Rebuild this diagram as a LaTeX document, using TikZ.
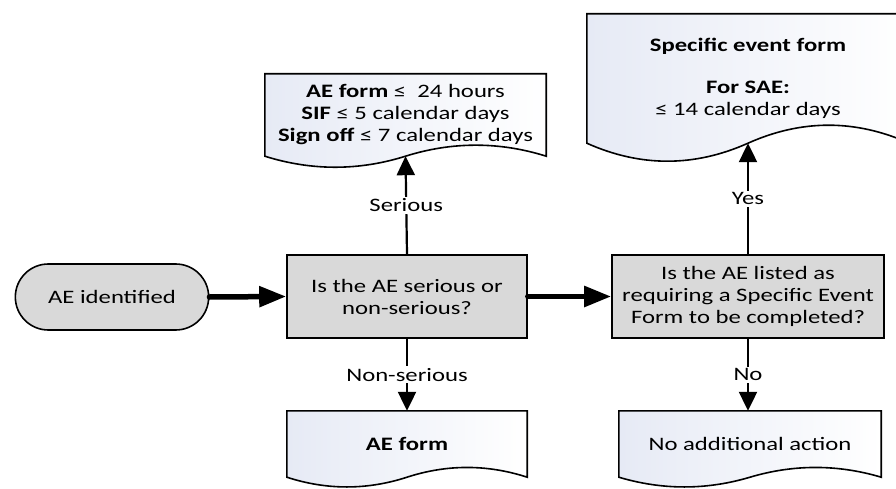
\documentclass[tikz,border=0pt]{standalone}
\usepackage{fontspec}
\setmainfont{Carlito}[FakeStretch=1.3]
\usetikzlibrary{arrows.meta,shapes.misc,backgrounds}
\definecolor{boxgray}{HTML}{D9D9D9}
\definecolor{docblue}{HTML}{E6EAF5}
% #1 node name, #2 = width/6, #3 = wave control offset
\newcommand\docpath[3]{%
  \begin{pgfonlayer}{background}
  \draw[docline] (#1.south west) -- (#1.north west) -- (#1.north east) -- (#1.south east)
    .. controls +(-#2,-#3) and +(#2,-#3) .. (#1.south)
    .. controls +(-#2,#3) and +(#2,#3) .. (#1.south west) -- cycle;
  \end{pgfonlayer}}
\begin{document}
\begin{tikzpicture}[x=1pt,y=-1pt,
  font=\fontsize{19}{22}\selectfont,
  box/.style={draw, line width=1.6pt, fill=boxgray, align=center, inner sep=4pt},
  term/.style={rounded rectangle, draw, line width=1.6pt, fill=boxgray,
    minimum width=200pt, minimum height=66pt},
  doc/.style={align=center, inner sep=0pt},
  docline/.style={draw, line width=1.6pt, left color=docblue, right color=white},
  thinarrow/.style={line width=2.2pt, -{Triangle[length=19pt,width=18pt]}},
  heavyarrow/.style={line width=5.5pt, line cap=round, -{Triangle[length=27pt,width=20pt]}},
  lbl/.style={fill=white, inner sep=2pt}]
\clip (0,0) rectangle (896,489);
\useasboundingbox (0,0) rectangle (896,489);

\node[term] (ae) at (112,297) {AE identified};
\node[box, minimum width=240pt, minimum height=83pt] (q1) at (407,296.5)
  {Is the AE serious or\\non-serious?};
\node[box, minimum width=272pt, minimum height=83pt] (q2) at (748,296.5)
  {Is the AE listed as\\requiring a Specific Event\\Form to be completed?};

\node[doc, minimum width=281pt, minimum height=82pt] (d1) at (405.5,115)
  {\raisebox{4pt}{\begin{tabular}{@{}c@{}}\textbf{AE form} ≤\ \ 24 hours\\\textbf{SIF} ≤ 5 calendar days\\\textbf{Sign off} ≤ 7 calendar days\end{tabular}}};
\docpath{d1}{46.8}{14.7}
\node[doc, minimum width=322pt, minimum height=129pt] (d2) at (748,78.5)
  {\textbf{Specific event form}\\[20pt]\textbf{For SAE:}\\≤ 14 calendar days};
\docpath{d2}{53.7}{24}
\node[doc, minimum width=240pt, minimum height=66pt] (d3) at (407,444) {\textbf{AE form}};
\docpath{d3}{40}{13}
\node[doc, minimum width=262pt, minimum height=66pt] (d4) at (750,444) {No additional action};
\docpath{d4}{43.7}{13}

\draw[heavyarrow] (ae.east) -- (q1.west);
\draw[heavyarrow] (q1.east) -- (q2.west);
\draw[thinarrow] (q1.north) -- node[lbl]{Serious} (d1.south);
\draw[thinarrow] (q1.south) -- node[lbl]{Non-serious} (d3.north);
\draw[thinarrow] (q2.north) -- node[lbl]{Yes} (d2.south);
\draw[thinarrow] (q2.south) -- node[lbl]{No} (q2.south |- d4.north);
\end{tikzpicture}
\end{document}
